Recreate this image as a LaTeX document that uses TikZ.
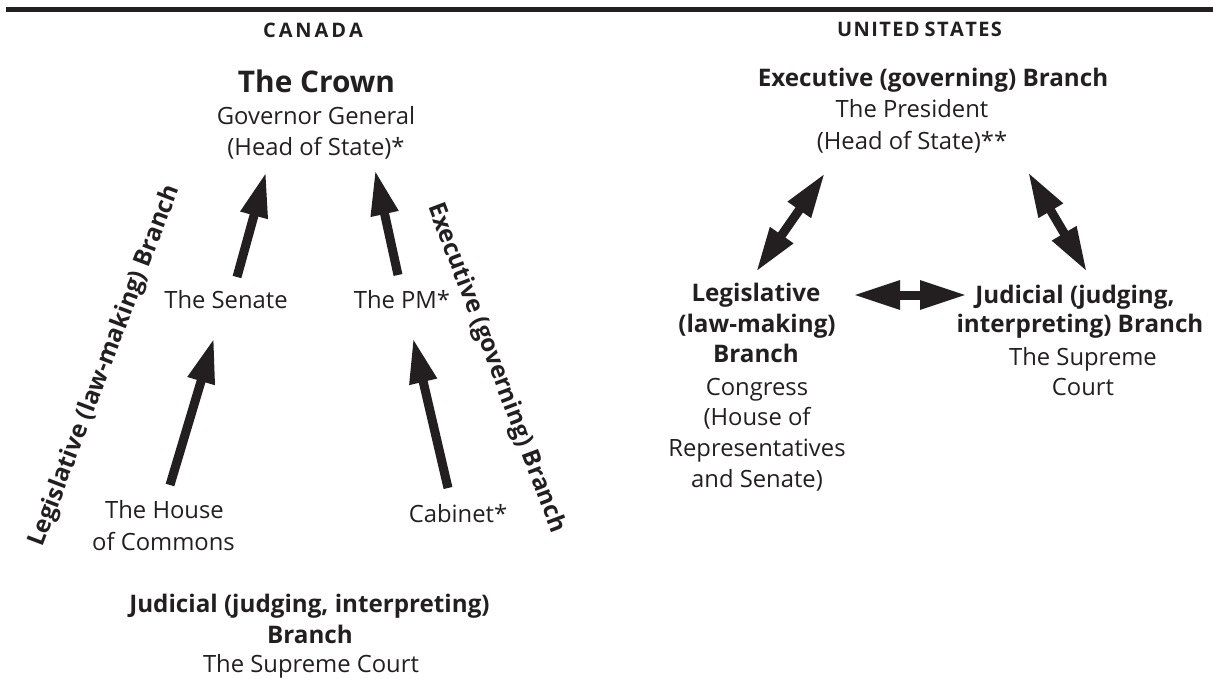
\documentclass[tikz,border=0pt]{standalone}
\usepackage{fontspec}
\setmainfont{Open Sans}
\usetikzlibrary{arrows.meta}
\definecolor{ink}{HTML}{231F20}
\newcommand\capgapA{\kern2.9pt}
\newcommand\capgapB{\kern1.4pt}
\tikzset{
  reg/.style={inner sep=0pt, anchor=base, text=ink, font=\fontsize{23.8}{30}\selectfont},
  bld/.style={inner sep=0pt, anchor=base, text=ink, font=\fontsize{24.2}{30}\selectfont\bfseries},
  head/.style={inner sep=0pt, anchor=base, text=ink, font=\fontsize{20}{24}\selectfont\bfseries},
  crownfont/.style={inner sep=0pt, anchor=base, text=ink, font=\fontsize{29.8}{36}\selectfont\bfseries},
  sidelabel/.style={inner sep=0pt, anchor=center, text=ink, font=\fontsize{24.2}{30}\selectfont\bfseries},
  uparrow/.style={draw=ink, line width=9pt, -{Triangle[length=45pt, width=26pt]}},
  twoway/.style={draw=ink, line width=9pt, {Triangle[length=45pt, width=26pt]}-{Triangle[length=45pt, width=26pt]}},
  twowayh/.style={draw=ink, line width=9pt, {Triangle[length=47pt, width=27pt]}-{Triangle[length=47pt, width=27pt]}},
  rule/.style={draw=ink, line width=5pt}
}
\begin{document}
\begin{tikzpicture}[x=1pt, y=-1pt]
\useasboundingbox (0,0) rectangle (1213,679);
% top rule
\coordinate (ruleL) at (6,9.5);
\coordinate (ruleR) at (1213,9.5);
\draw[rule] (ruleL) -- (ruleR);

% ---------------- CANADA ----------------
\node[head] (canada) at (313,38) {C\capgapA A\capgapA N\capgapA A\capgapA D\capgapA A};
\node[crownfont] (crown) at (316.5,93) {The Crown};
\node[reg] (gg) at (316,125) {Governor General};
\node[reg] (hos) at (316,156) {(Head of State)*};
\node[reg] (senate) at (226,308) {The Senate};
\node[reg] (pm) at (402,308) {The PM*};
\node[reg] (house) at (164.5,518) {The House};
\node[reg] (commons) at (163.5,550) {of Commons};
\node[reg] (cabinet) at (458,522) {Cabinet*};
\node[bld] (cjud) at (309.5,612) {Judicial (judging, interpreting)};
\node[bld] (cbranch) at (310,643) {Branch};
\node[reg] (ccourt) at (311,672) {The Supreme Court};
\node[sidelabel, rotate=69.2] (leglab) at (105,366) {Legislative (law-making) Branch};
\node[sidelabel, rotate=-69.3] (execlab) at (496,368) {Executive (governing) Branch};

\coordinate (senateOut) at (237,277);
\coordinate (crownInL) at (266,172);
\coordinate (pmOut) at (398,275);
\coordinate (crownInR) at (375,170);
\coordinate (houseOut) at (170,485);
\coordinate (senateIn) at (214,338);
\coordinate (cabinetOut) at (448,488);
\coordinate (pmIn) at (413,338);
\draw[uparrow] (senateOut) -- (crownInL);
\draw[uparrow] (pmOut) -- (crownInR);
\draw[uparrow] (houseOut) -- (senateIn);
\draw[uparrow] (cabinetOut) -- (pmIn);

% ---------------- UNITED STATES ----------------
\node[head] (us) at (919.5,37) {U\capgapB N\capgapB I\capgapB T\capgapB E\capgapB D\kern5pt S\capgapB T\capgapB A\capgapB T\capgapB E\capgapB S};
\node[bld] (usexec) at (933,87) {Executive (governing) Branch};
\node[reg] (pres) at (912,118) {The President};
\node[reg] (ushos) at (912,150) {(Head of State)**};

\node[bld] (ulegA) at (756,301) {Legislative};
\node[bld] (ulegB) at (757,332) {(law-making)};
\node[bld] (ulegC) at (756,362) {Branch};
\node[reg] (congA) at (757,395) {Congress};
\node[reg] (congB) at (757,425) {(House of};
\node[reg] (congC) at (757,456) {Representatives};
\node[reg] (congD) at (757,487) {and Senate)};

\node[bld] (ujudA) at (1075,303) {Judicial (judging,};
\node[bld] (ujudB) at (1080,332) {interpreting) Branch};
\node[reg] (ucourtA) at (1083,365) {The Supreme};
\node[reg] (ucourtB) at (1083,395) {Court};

\coordinate (execL) at (825,173);
\coordinate (legT) at (756,272);
\coordinate (execR) at (1028,172);
\coordinate (judT) at (1087,272);
\coordinate (legR) at (853,295);
\coordinate (judL) at (967,295);
\draw[twoway] (legT) -- (execL);
\draw[twoway] (judT) -- (execR);
\draw[twowayh] (legR) -- (judL);
\end{tikzpicture}
\end{document}
